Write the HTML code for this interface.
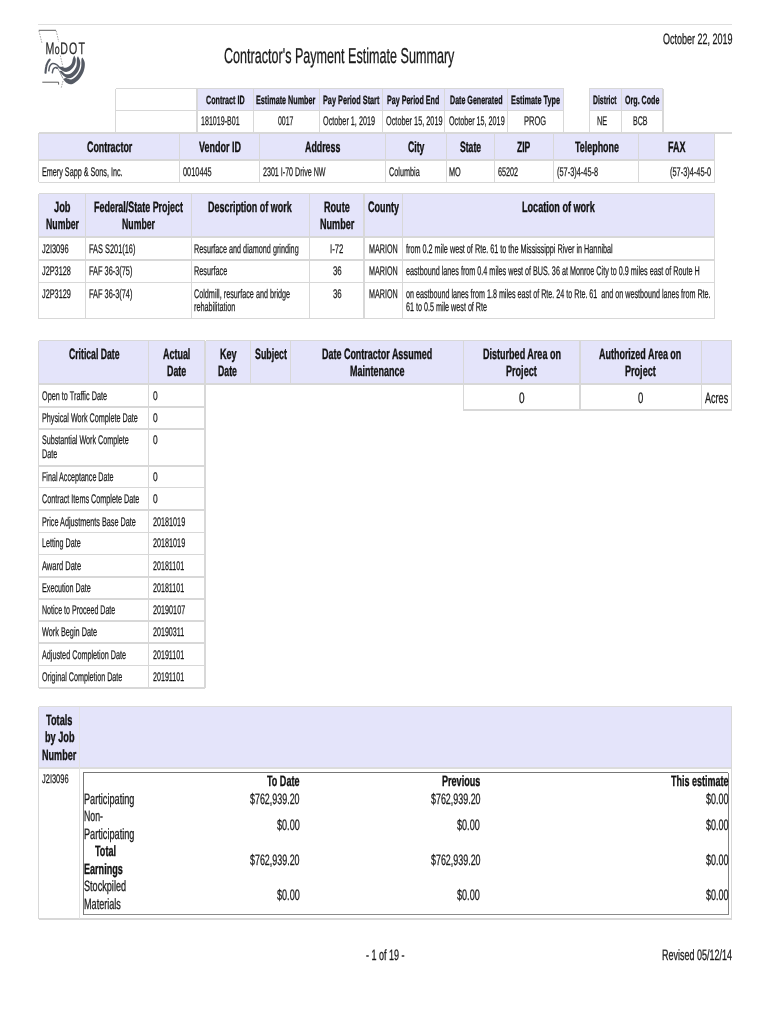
<!DOCTYPE html>
<html><head><meta charset="utf-8"><title>Contractor's Payment Estimate Summary</title>
<style>
html,body{margin:0;padding:0;background:#fff}
body{width:770px;height:1024px;position:relative;overflow:hidden;text-rendering:geometricPrecision;font-family:"Liberation Sans",sans-serif;color:#1a1a1a}
.b{position:absolute}
.t{position:absolute;white-space:pre;line-height:1;transform-origin:0 0;display:block;-webkit-text-stroke:0.25px #1a1a1a}
.w{-webkit-text-stroke:0.2px #111;color:#111}
#tx{position:absolute;left:0;top:0;width:770px;height:1024px;will-change:transform}
.w{font-weight:bold}
</style></head><body>
<div class="b" style="left:197px;top:88.5px;width:366.75px;height:22px;background:#e4e4fa"></div>
<div class="b" style="left:589.3px;top:88.5px;width:73.8px;height:22px;background:#e4e4fa"></div>
<div class="b" style="left:38.75px;top:133.25px;width:675.75px;height:27px;background:#e4e4fa"></div>
<div class="b" style="left:38.75px;top:193.5px;width:675.75px;height:43.75px;background:#e4e4fa"></div>
<div class="b" style="left:38.75px;top:340.5px;width:692.85px;height:43.75px;background:#e4e4fa"></div>
<div class="b" style="left:38.75px;top:706.9px;width:693.25px;height:60.7px;background:#e4e4fa"></div>
<div class="b" style="left:38px;top:23.75px;width:694px;height:1.5px;background:#dedede"></div>
<div class="b" style="left:115.6px;top:87.7px;width:448.15px;height:1.6px;background:#d8d8d8"></div>
<div class="b" style="left:115.6px;top:109.7px;width:448.15px;height:1.6px;background:#d8d8d8"></div>
<div class="b" style="left:589.3px;top:87.7px;width:73.8px;height:1.6px;background:#d8d8d8"></div>
<div class="b" style="left:589.3px;top:109.7px;width:73.8px;height:1.6px;background:#d8d8d8"></div>
<div class="b" style="left:114.9px;top:88.5px;width:1.4px;height:44.5px;background:#d8d8d8"></div>
<div class="b" style="left:196.3px;top:88.5px;width:1.4px;height:44.5px;background:#d8d8d8"></div>
<div class="b" style="left:253px;top:88.5px;width:1.4px;height:44.5px;background:#d8d8d8"></div>
<div class="b" style="left:318.7px;top:88.5px;width:1.4px;height:44.5px;background:#d8d8d8"></div>
<div class="b" style="left:381.6px;top:88.5px;width:1.4px;height:44.5px;background:#d8d8d8"></div>
<div class="b" style="left:444.1px;top:88.5px;width:1.4px;height:44.5px;background:#d8d8d8"></div>
<div class="b" style="left:506.6px;top:88.5px;width:1.4px;height:44.5px;background:#d8d8d8"></div>
<div class="b" style="left:563.05px;top:88.5px;width:1.4px;height:44.5px;background:#d8d8d8"></div>
<div class="b" style="left:588.6px;top:88.5px;width:1.4px;height:44.5px;background:#d8d8d8"></div>
<div class="b" style="left:620.8px;top:88.5px;width:1.4px;height:44.5px;background:#d8d8d8"></div>
<div class="b" style="left:662.4px;top:88.5px;width:1.4px;height:44.5px;background:#d8d8d8"></div>
<div class="b" style="left:38.75px;top:132.45px;width:693.25px;height:1.6px;background:#d8d8d8"></div>
<div class="b" style="left:38.75px;top:159.45px;width:675.75px;height:1.6px;background:#d8d8d8"></div>
<div class="b" style="left:38.75px;top:181.5px;width:675.75px;height:1.6px;background:#d8d8d8"></div>
<div class="b" style="left:38.05px;top:133.25px;width:1.4px;height:49.05px;background:#d8d8d8"></div>
<div class="b" style="left:178.6px;top:133.25px;width:1.4px;height:49.05px;background:#d8d8d8"></div>
<div class="b" style="left:258.8px;top:133.25px;width:1.4px;height:49.05px;background:#d8d8d8"></div>
<div class="b" style="left:385.05px;top:133.25px;width:1.4px;height:49.05px;background:#d8d8d8"></div>
<div class="b" style="left:445.55px;top:133.25px;width:1.4px;height:49.05px;background:#d8d8d8"></div>
<div class="b" style="left:493.55px;top:133.25px;width:1.4px;height:49.05px;background:#d8d8d8"></div>
<div class="b" style="left:553.05px;top:133.25px;width:1.4px;height:49.05px;background:#d8d8d8"></div>
<div class="b" style="left:637.55px;top:133.25px;width:1.4px;height:49.05px;background:#d8d8d8"></div>
<div class="b" style="left:713.8px;top:133.25px;width:1.4px;height:49.05px;background:#d8d8d8"></div>
<div class="b" style="left:38.75px;top:192.7px;width:675.75px;height:1.6px;background:#d8d8d8"></div>
<div class="b" style="left:38.75px;top:236.45px;width:675.75px;height:1.6px;background:#d8d8d8"></div>
<div class="b" style="left:38.75px;top:259.2px;width:675.75px;height:1.6px;background:#d8d8d8"></div>
<div class="b" style="left:38.75px;top:281.7px;width:675.75px;height:1.6px;background:#d8d8d8"></div>
<div class="b" style="left:38.75px;top:317.8px;width:675.75px;height:1.6px;background:#d8d8d8"></div>
<div class="b" style="left:38.05px;top:193.5px;width:1.4px;height:125.1px;background:#d8d8d8"></div>
<div class="b" style="left:84.9px;top:193.5px;width:1.4px;height:125.1px;background:#d8d8d8"></div>
<div class="b" style="left:190.55px;top:193.5px;width:1.4px;height:125.1px;background:#d8d8d8"></div>
<div class="b" style="left:308.6px;top:193.5px;width:1.4px;height:125.1px;background:#d8d8d8"></div>
<div class="b" style="left:363.2px;top:193.5px;width:1.4px;height:125.1px;background:#d8d8d8"></div>
<div class="b" style="left:401.6px;top:193.5px;width:1.4px;height:125.1px;background:#d8d8d8"></div>
<div class="b" style="left:713.8px;top:193.5px;width:1.4px;height:125.1px;background:#d8d8d8"></div>
<div class="b" style="left:38.75px;top:339.7px;width:166.35px;height:1.6px;background:#d8d8d8"></div>
<div class="b" style="left:38.75px;top:383.45px;width:166.35px;height:1.6px;background:#d8d8d8"></div>
<div class="b" style="left:38.75px;top:406.3px;width:166.35px;height:1.6px;background:#d8d8d8"></div>
<div class="b" style="left:38.75px;top:428.1px;width:166.35px;height:1.6px;background:#d8d8d8"></div>
<div class="b" style="left:38.75px;top:465px;width:166.35px;height:1.6px;background:#d8d8d8"></div>
<div class="b" style="left:38.75px;top:486.7px;width:166.35px;height:1.6px;background:#d8d8d8"></div>
<div class="b" style="left:38.75px;top:509.2px;width:166.35px;height:1.6px;background:#d8d8d8"></div>
<div class="b" style="left:38.75px;top:531.7px;width:166.35px;height:1.6px;background:#d8d8d8"></div>
<div class="b" style="left:38.75px;top:553.7px;width:166.35px;height:1.6px;background:#d8d8d8"></div>
<div class="b" style="left:38.75px;top:575.95px;width:166.35px;height:1.6px;background:#d8d8d8"></div>
<div class="b" style="left:38.75px;top:597.95px;width:166.35px;height:1.6px;background:#d8d8d8"></div>
<div class="b" style="left:38.75px;top:619.95px;width:166.35px;height:1.6px;background:#d8d8d8"></div>
<div class="b" style="left:38.75px;top:642.2px;width:166.35px;height:1.6px;background:#d8d8d8"></div>
<div class="b" style="left:38.75px;top:664.7px;width:166.35px;height:1.6px;background:#d8d8d8"></div>
<div class="b" style="left:38.75px;top:687.2px;width:166.35px;height:1.6px;background:#d8d8d8"></div>
<div class="b" style="left:38.05px;top:340.5px;width:1.4px;height:347.5px;background:#d8d8d8"></div>
<div class="b" style="left:147.9px;top:340.5px;width:1.4px;height:347.5px;background:#d8d8d8"></div>
<div class="b" style="left:204.4px;top:340.5px;width:1.4px;height:347.5px;background:#d8d8d8"></div>
<div class="b" style="left:205.5px;top:339.7px;width:526.1px;height:1.6px;background:#d8d8d8"></div>
<div class="b" style="left:205.5px;top:383.45px;width:526.1px;height:1.6px;background:#d8d8d8"></div>
<div class="b" style="left:204.8px;top:340.5px;width:1.4px;height:43.75px;background:#d8d8d8"></div>
<div class="b" style="left:249.8px;top:340.5px;width:1.4px;height:43.75px;background:#d8d8d8"></div>
<div class="b" style="left:289.55px;top:340.5px;width:1.4px;height:43.75px;background:#d8d8d8"></div>
<div class="b" style="left:462.55px;top:340.5px;width:1.4px;height:43.75px;background:#d8d8d8"></div>
<div class="b" style="left:579.3px;top:340.5px;width:1.4px;height:43.75px;background:#d8d8d8"></div>
<div class="b" style="left:700.55px;top:340.5px;width:1.4px;height:43.75px;background:#d8d8d8"></div>
<div class="b" style="left:730.9px;top:340.5px;width:1.4px;height:43.75px;background:#d8d8d8"></div>
<div class="b" style="left:463.25px;top:409.2px;width:268.35px;height:1.6px;background:#d8d8d8"></div>
<div class="b" style="left:462.55px;top:384.25px;width:1.4px;height:25.75px;background:#d8d8d8"></div>
<div class="b" style="left:579.3px;top:384.25px;width:1.4px;height:25.75px;background:#d8d8d8"></div>
<div class="b" style="left:700.55px;top:384.25px;width:1.4px;height:25.75px;background:#d8d8d8"></div>
<div class="b" style="left:730.9px;top:384.25px;width:1.4px;height:25.75px;background:#d8d8d8"></div>
<div class="b" style="left:38.75px;top:706px;width:693.25px;height:1.2px;background:#dcdcdc"></div>
<div class="b" style="left:38.75px;top:767.2px;width:693.25px;height:1.6px;background:#dcdcdc"></div>
<div class="b" style="left:38.75px;top:918.2px;width:693.25px;height:1.6px;background:#d8d8d8"></div>
<div class="b" style="left:38.05px;top:706.5px;width:1.4px;height:212.5px;background:#d8d8d8"></div>
<div class="b" style="left:79.05px;top:706.5px;width:1.1px;height:212.5px;background:#e2e2e2"></div>
<div class="b" style="left:731.1px;top:706.5px;width:1.4px;height:212.5px;background:#d8d8d8"></div>
<div class="b" style="left:83.25px;top:771.95px;width:644.95px;height:1.1px;background:#777"></div>
<div class="b" style="left:83.25px;top:914.05px;width:644.95px;height:0.9px;background:#8a8a8a"></div>
<div class="b" style="left:83.05px;top:772.5px;width:1.1px;height:142px;background:#777"></div>
<div class="b" style="left:727.5px;top:772.5px;width:0.8px;height:142px;background:#808080"></div>
<div id="tx">
<svg class="b" style="left:36px;top:26px" width="56" height="66" viewBox="36 26 56 66">
<g fill="none" stroke="#4a4a4a" stroke-width="0.9">
<path d="M38.8 30.3H56"/>
<path d="M42.3 82.2H58.6V84.6"/>
</g>
<g fill="none" stroke="#8e8e8e" stroke-width="0.8" stroke-dasharray="1.6 1.1">
<path d="M38.9 30.8L42 43.2"/>
<path d="M56.2 30.8L58.7 41.8"/>
<path d="M60.3 55.5L63.2 68"/>
<path d="M63 81L61.3 87.6"/>
</g>
<g fill="#555a64" stroke="none">
<path d="M82.5 57.5C82.9 58.4 84.6 60.7 84.8 63.0C85.0 65.4 84.6 68.8 83.6 71.5C82.7 74.2 80.8 77.2 79.0 79.3C77.1 81.4 74.4 83.3 72.5 83.9C70.5 84.6 68.8 84.1 67.3 83.3C65.7 82.5 63.8 79.7 63.1 78.9C63.5 78.8 64.6 77.9 66.0 78.0C67.3 78.0 69.4 79.7 71.2 79.4C72.9 79.1 74.7 77.9 76.4 76.0C78.0 74.2 80.1 71.0 80.9 68.2C81.8 65.5 81.2 61.3 81.4 59.5C81.7 57.7 82.3 57.8 82.5 57.5Z"/>
<path d="M78.0 56.2C78.4 57.2 80.2 60.0 80.3 62.4C80.3 64.8 79.7 68.3 78.4 70.8C77.1 73.3 74.3 76.1 72.5 77.3C70.6 78.5 68.9 78.5 67.3 78.1C65.6 77.7 64.0 76.0 62.7 74.9C61.4 73.7 59.9 71.8 59.4 71.2C59.8 71.2 60.6 70.5 61.8 71.0C62.9 71.5 64.3 73.9 66.0 74.2C67.7 74.5 70.1 74.1 71.8 72.8C73.5 71.5 75.5 68.7 76.4 66.3C77.2 63.9 76.6 60.2 76.9 58.5C77.2 56.8 77.8 56.6 78.0 56.2Z"/>
<path d="M74.3 55.6C74.5 56.4 76.0 58.4 75.8 60.4C75.7 62.4 74.6 65.7 73.2 67.6C71.9 69.4 69.7 71.0 67.9 71.6C66.2 72.2 64.3 71.8 62.7 71.0C61.2 70.2 59.2 67.5 58.5 66.8C59.0 66.8 60.2 66.5 61.4 66.7C62.7 66.8 64.4 68.1 66.0 67.7C67.6 67.3 70.0 65.9 71.2 64.3C72.3 62.8 72.5 60.0 73.0 58.5C73.5 57.0 74.1 56.1 74.3 55.6Z"/>
</g>
<g fill="none" stroke="#555a64" stroke-linecap="round">
<path stroke-width="2.1" d="M45.5 72.8C45.6 71.8 45.8 68.7 46.2 66.9C46.5 65.2 47.2 63.6 47.8 62.4C48.4 61.2 49.4 60.1 49.7 59.7"/>
<path stroke-width="1.5" d="M48.8 70.8C48.9 70.1 49.2 67.5 49.7 66.3C50.3 65.1 50.9 64.0 52.0 63.7C53.1 63.4 55.3 64.0 56.6 64.7C57.8 65.3 58.6 66.8 59.5 67.6C60.3 68.3 61.4 68.9 61.8 69.2"/>
<path stroke-width="1.5" d="M52.3 72.8C52.5 72.2 52.8 70.1 53.3 69.2C53.8 68.3 54.6 67.6 55.3 67.5C55.9 67.3 56.9 68.1 57.2 68.2"/>
<path stroke-width="0.6" d="M56.9 66.9C57.3 67.7 58.5 69.6 59.5 71.5C60.5 73.3 62.2 76.9 62.7 78.0"/>
</g>
<text x="0" y="0" transform="translate(45.6 53.9) scale(0.64 1)" font-family="Liberation Sans, sans-serif" font-size="16.6" fill="#2a2a2a" stroke="#2a2a2a" stroke-width="0.25">M<tspan font-size="13.8" dx="0.4">o</tspan><tspan dx="0.9">D</tspan><tspan dx="1.6">O</tspan><tspan dx="2.1">T</tspan></text>
</svg>
<div class="t" style="left:662.76px;top:31.80px;font-size:15px;transform:scaleX(0.6002);-webkit-text-stroke-width:0.3px">October 22, 2019</div>
<div class="t" style="left:224.15px;top:45.90px;font-size:21.5px;transform:scaleX(0.5853);-webkit-text-stroke-width:0.3px">Contractor's Payment Estimate Summary</div>
<div class="t w" style="left:205.50px;top:93.64px;font-size:12px;transform:scaleX(0.5971);-webkit-text-stroke-width:0.3px">Contract ID</div>
<div class="t w" style="left:256.36px;top:93.64px;font-size:12px;transform:scaleX(0.6014);-webkit-text-stroke-width:0.3px">Estimate Number</div>
<div class="t w" style="left:322.60px;top:93.64px;font-size:12px;transform:scaleX(0.6083);-webkit-text-stroke-width:0.3px">Pay Period Start</div>
<div class="t w" style="left:387.11px;top:93.64px;font-size:12px;transform:scaleX(0.5937);-webkit-text-stroke-width:0.3px">Pay Period End</div>
<div class="t w" style="left:449.71px;top:93.64px;font-size:12px;transform:scaleX(0.5915);-webkit-text-stroke-width:0.3px">Date Generated</div>
<div class="t w" style="left:510.60px;top:93.64px;font-size:12px;transform:scaleX(0.6095);-webkit-text-stroke-width:0.3px">Estimate Type</div>
<div class="t w" style="left:593.38px;top:93.64px;font-size:12px;transform:scaleX(0.5713);-webkit-text-stroke-width:0.3px">District</div>
<div class="t w" style="left:625.30px;top:93.64px;font-size:12px;transform:scaleX(0.5922);-webkit-text-stroke-width:0.3px">Org. Code</div>
<div class="t" style="left:200.53px;top:115.12px;font-size:12.5px;transform:scaleX(0.5673);-webkit-text-stroke-width:0.25px">181019-B01</div>
<div class="t" style="left:278.40px;top:115.12px;font-size:12.5px;transform:scaleX(0.5567);-webkit-text-stroke-width:0.25px">0017</div>
<div class="t" style="left:322.73px;top:115.12px;font-size:12.5px;transform:scaleX(0.5805);-webkit-text-stroke-width:0.25px">October 1, 2019</div>
<div class="t" style="left:385.73px;top:115.12px;font-size:12.5px;transform:scaleX(0.5853);-webkit-text-stroke-width:0.25px">October 15, 2019</div>
<div class="t" style="left:448.53px;top:115.12px;font-size:12.5px;transform:scaleX(0.5759);-webkit-text-stroke-width:0.25px">October 15, 2019</div>
<div class="t" style="left:524.46px;top:115.12px;font-size:12.5px;transform:scaleX(0.5982);-webkit-text-stroke-width:0.25px">PROG</div>
<div class="t" style="left:597.07px;top:115.12px;font-size:12.5px;transform:scaleX(0.5852);-webkit-text-stroke-width:0.25px">NE</div>
<div class="t" style="left:633.49px;top:115.12px;font-size:12.5px;transform:scaleX(0.5686);-webkit-text-stroke-width:0.25px">BCB</div>
<div class="t w" style="left:86.74px;top:140.20px;font-size:15px;transform:scaleX(0.5906);-webkit-text-stroke-width:0.36px">Contractor</div>
<div class="t w" style="left:198.80px;top:140.20px;font-size:15px;transform:scaleX(0.5995);-webkit-text-stroke-width:0.36px">Vendor ID</div>
<div class="t w" style="left:305.39px;top:140.20px;font-size:15px;transform:scaleX(0.5892);-webkit-text-stroke-width:0.36px">Address</div>
<div class="t w" style="left:407.75px;top:140.20px;font-size:15px;transform:scaleX(0.5802);-webkit-text-stroke-width:0.36px">City</div>
<div class="t w" style="left:459.86px;top:140.20px;font-size:15px;transform:scaleX(0.5747);-webkit-text-stroke-width:0.36px">State</div>
<div class="t w" style="left:517.35px;top:140.20px;font-size:15px;transform:scaleX(0.5716);-webkit-text-stroke-width:0.36px">ZIP</div>
<div class="t w" style="left:574.51px;top:140.20px;font-size:15px;transform:scaleX(0.5945);-webkit-text-stroke-width:0.36px">Telephone</div>
<div class="t w" style="left:667.51px;top:140.20px;font-size:15px;transform:scaleX(0.5983);-webkit-text-stroke-width:0.36px">FAX</div>
<div class="t" style="left:41.98px;top:165.72px;font-size:12.5px;transform:scaleX(0.5772);-webkit-text-stroke-width:0.25px">Emery Sapp &amp; Sons, Inc.</div>
<div class="t" style="left:182.79px;top:165.72px;font-size:12.5px;transform:scaleX(0.5897);-webkit-text-stroke-width:0.25px">0010445</div>
<div class="t" style="left:263.46px;top:165.72px;font-size:12.5px;transform:scaleX(0.5693);-webkit-text-stroke-width:0.25px">2301 I-70 Drive NW</div>
<div class="t" style="left:389.20px;top:165.72px;font-size:12.5px;transform:scaleX(0.5818);-webkit-text-stroke-width:0.25px">Columbia</div>
<div class="t" style="left:449.47px;top:165.72px;font-size:12.5px;transform:scaleX(0.5861);-webkit-text-stroke-width:0.25px">MO</div>
<div class="t" style="left:497.71px;top:165.72px;font-size:12.5px;transform:scaleX(0.5777);-webkit-text-stroke-width:0.25px">65202</div>
<div class="t" style="left:557.12px;top:165.72px;font-size:12.5px;transform:scaleX(0.5920);-webkit-text-stroke-width:0.25px">(57-3)4-45-8</div>
<div class="t" style="left:670.37px;top:165.72px;font-size:12.5px;transform:scaleX(0.5915);-webkit-text-stroke-width:0.25px">(57-3)4-45-0</div>
<div class="t w" style="left:54.22px;top:199.60px;font-size:15px;transform:scaleX(0.6205);-webkit-text-stroke-width:0.36px">Job</div>
<div class="t w" style="left:45.77px;top:217.10px;font-size:15px;transform:scaleX(0.5823);-webkit-text-stroke-width:0.36px">Number</div>
<div class="t w" style="left:94.01px;top:199.60px;font-size:15px;transform:scaleX(0.5963);-webkit-text-stroke-width:0.36px">Federal/State Project</div>
<div class="t w" style="left:122.02px;top:217.10px;font-size:15px;transform:scaleX(0.5823);-webkit-text-stroke-width:0.36px">Number</div>
<div class="t w" style="left:208.26px;top:199.60px;font-size:15px;transform:scaleX(0.5972);-webkit-text-stroke-width:0.36px">Description of work</div>
<div class="t w" style="left:323.75px;top:199.60px;font-size:15px;transform:scaleX(0.6047);-webkit-text-stroke-width:0.36px">Route</div>
<div class="t w" style="left:319.50px;top:217.10px;font-size:15px;transform:scaleX(0.6047);-webkit-text-stroke-width:0.36px">Number</div>
<div class="t w" style="left:367.74px;top:199.60px;font-size:15px;transform:scaleX(0.5990);-webkit-text-stroke-width:0.36px">County</div>
<div class="t w" style="left:521.50px;top:199.60px;font-size:15px;transform:scaleX(0.6057);-webkit-text-stroke-width:0.36px">Location of work</div>
<div class="t" style="left:41.96px;top:242.82px;font-size:12.5px;transform:scaleX(0.5967);-webkit-text-stroke-width:0.25px">J2I3096</div>
<div class="t" style="left:41.96px;top:265.42px;font-size:12.5px;transform:scaleX(0.5852);-webkit-text-stroke-width:0.25px">J2P3128</div>
<div class="t" style="left:41.96px;top:287.82px;font-size:12.5px;transform:scaleX(0.5858);-webkit-text-stroke-width:0.25px">J2P3129</div>
<div class="t" style="left:89.47px;top:242.82px;font-size:12.5px;transform:scaleX(0.5912);-webkit-text-stroke-width:0.25px">FAS S201(16)</div>
<div class="t" style="left:89.47px;top:265.42px;font-size:12.5px;transform:scaleX(0.5895);-webkit-text-stroke-width:0.25px">FAF 36-3(75)</div>
<div class="t" style="left:89.47px;top:287.82px;font-size:12.5px;transform:scaleX(0.5895);-webkit-text-stroke-width:0.25px">FAF 36-3(74)</div>
<div class="t" style="left:193.98px;top:242.82px;font-size:12.5px;transform:scaleX(0.5793);-webkit-text-stroke-width:0.25px">Resurface and diamond grinding</div>
<div class="t" style="left:193.97px;top:265.42px;font-size:12.5px;transform:scaleX(0.5840);-webkit-text-stroke-width:0.25px">Resurface</div>
<div class="t" style="left:194.21px;top:287.82px;font-size:12.5px;transform:scaleX(0.5784);-webkit-text-stroke-width:0.25px">Coldmill, resurface and bridge</div>
<div class="t" style="left:194.09px;top:301.22px;font-size:12.5px;transform:scaleX(0.5827);-webkit-text-stroke-width:0.25px">rehabilitation</div>
<div class="t" style="left:330.11px;top:242.82px;font-size:12.5px;transform:scaleX(0.6245);-webkit-text-stroke-width:0.25px">I-72</div>
<div class="t" style="left:332.78px;top:265.42px;font-size:12.5px;transform:scaleX(0.6283);-webkit-text-stroke-width:0.25px">36</div>
<div class="t" style="left:332.78px;top:287.82px;font-size:12.5px;transform:scaleX(0.6283);-webkit-text-stroke-width:0.25px">36</div>
<div class="t" style="left:368.68px;top:242.82px;font-size:12.5px;transform:scaleX(0.5746);-webkit-text-stroke-width:0.25px">MARION</div>
<div class="t" style="left:368.68px;top:265.42px;font-size:12.5px;transform:scaleX(0.5746);-webkit-text-stroke-width:0.25px">MARION</div>
<div class="t" style="left:368.68px;top:287.82px;font-size:12.5px;transform:scaleX(0.5746);-webkit-text-stroke-width:0.25px">MARION</div>
<div class="t" style="left:406.22px;top:242.82px;font-size:12.5px;transform:scaleX(0.5800);-webkit-text-stroke-width:0.25px">from 0.2 mile west of Rte. 61 to the Mississippi River in Hannibal</div>
<div class="t" style="left:406.02px;top:265.42px;font-size:12.5px;transform:scaleX(0.5768);-webkit-text-stroke-width:0.25px">eastbound lanes from 0.4 miles west of BUS. 36 at Monroe City to 0.9 miles east of Route H</div>
<div class="t" style="left:406.02px;top:287.82px;font-size:12.5px;transform:scaleX(0.5737);-webkit-text-stroke-width:0.25px">on eastbound lanes from 1.8 miles east of Rte. 24 to Rte. 61  and on westbound lanes from Rte.</div>
<div class="t" style="left:405.96px;top:301.22px;font-size:12.5px;transform:scaleX(0.5746);-webkit-text-stroke-width:0.25px">61 to 0.5 mile west of Rte</div>
<div class="t w" style="left:68.50px;top:346.60px;font-size:15px;transform:scaleX(0.5762);-webkit-text-stroke-width:0.36px">Critical Date</div>
<div class="t w" style="left:163.18px;top:346.60px;font-size:15px;transform:scaleX(0.5964);-webkit-text-stroke-width:0.36px">Actual</div>
<div class="t w" style="left:167.11px;top:363.70px;font-size:15px;transform:scaleX(0.5931);-webkit-text-stroke-width:0.36px">Date</div>
<div class="t w" style="left:219.50px;top:346.60px;font-size:15px;transform:scaleX(0.6062);-webkit-text-stroke-width:0.36px">Key</div>
<div class="t w" style="left:218.27px;top:363.70px;font-size:15px;transform:scaleX(0.5820);-webkit-text-stroke-width:0.36px">Date</div>
<div class="t w" style="left:254.85px;top:346.60px;font-size:15px;transform:scaleX(0.5887);-webkit-text-stroke-width:0.36px">Subject</div>
<div class="t w" style="left:321.51px;top:346.60px;font-size:15px;transform:scaleX(0.5975);-webkit-text-stroke-width:0.36px">Date Contractor Assumed</div>
<div class="t w" style="left:349.51px;top:363.70px;font-size:15px;transform:scaleX(0.5992);-webkit-text-stroke-width:0.36px">Maintenance</div>
<div class="t w" style="left:482.50px;top:346.60px;font-size:15px;transform:scaleX(0.6021);-webkit-text-stroke-width:0.36px">Disturbed Area on</div>
<div class="t w" style="left:506.25px;top:363.70px;font-size:15px;transform:scaleX(0.6046);-webkit-text-stroke-width:0.36px">Project</div>
<div class="t w" style="left:599.38px;top:346.60px;font-size:15px;transform:scaleX(0.5974);-webkit-text-stroke-width:0.36px">Authorized Area on</div>
<div class="t w" style="left:625.00px;top:363.70px;font-size:15px;transform:scaleX(0.6046);-webkit-text-stroke-width:0.36px">Project</div>
<div class="t" style="left:519.21px;top:390.50px;font-size:15px;transform:scaleX(0.6692);-webkit-text-stroke-width:0.3px">0</div>
<div class="t" style="left:638.47px;top:390.50px;font-size:15px;transform:scaleX(0.6357);-webkit-text-stroke-width:0.3px">0</div>
<div class="t" style="left:705.07px;top:390.50px;font-size:15px;transform:scaleX(0.6041);-webkit-text-stroke-width:0.3px">Acres</div>
<div class="t" style="left:42.23px;top:389.92px;font-size:12.5px;transform:scaleX(0.5824);-webkit-text-stroke-width:0.25px">Open to Traffic Date</div>
<div class="t" style="left:152.55px;top:389.92px;font-size:12.5px;transform:scaleX(0.6745);-webkit-text-stroke-width:0.25px">0</div>
<div class="t" style="left:41.98px;top:411.82px;font-size:12.5px;transform:scaleX(0.5776);-webkit-text-stroke-width:0.25px">Physical Work Complete Date</div>
<div class="t" style="left:152.55px;top:411.82px;font-size:12.5px;transform:scaleX(0.6745);-webkit-text-stroke-width:0.25px">0</div>
<div class="t" style="left:42.25px;top:433.72px;font-size:12.5px;transform:scaleX(0.5733);-webkit-text-stroke-width:0.25px">Substantial Work Complete</div>
<div class="t" style="left:152.55px;top:433.72px;font-size:12.5px;transform:scaleX(0.6745);-webkit-text-stroke-width:0.25px">0</div>
<div class="t" style="left:41.99px;top:470.72px;font-size:12.5px;transform:scaleX(0.5713);-webkit-text-stroke-width:0.25px">Final Acceptance Date</div>
<div class="t" style="left:152.55px;top:470.72px;font-size:12.5px;transform:scaleX(0.6745);-webkit-text-stroke-width:0.25px">0</div>
<div class="t" style="left:42.20px;top:492.62px;font-size:12.5px;transform:scaleX(0.5787);-webkit-text-stroke-width:0.25px">Contract Items Complete Date</div>
<div class="t" style="left:152.55px;top:492.62px;font-size:12.5px;transform:scaleX(0.6745);-webkit-text-stroke-width:0.25px">0</div>
<div class="t" style="left:41.98px;top:515.52px;font-size:12.5px;transform:scaleX(0.5792);-webkit-text-stroke-width:0.25px">Price Adjustments Base Date</div>
<div class="t" style="left:152.61px;top:515.52px;font-size:12.5px;transform:scaleX(0.5782);-webkit-text-stroke-width:0.25px">20181019</div>
<div class="t" style="left:41.98px;top:536.62px;font-size:12.5px;transform:scaleX(0.5735);-webkit-text-stroke-width:0.25px">Letting Date</div>
<div class="t" style="left:152.61px;top:536.62px;font-size:12.5px;transform:scaleX(0.5782);-webkit-text-stroke-width:0.25px">20181019</div>
<div class="t" style="left:41.96px;top:559.72px;font-size:12.5px;transform:scaleX(0.6006);-webkit-text-stroke-width:0.25px">Award Date</div>
<div class="t" style="left:152.61px;top:559.72px;font-size:12.5px;transform:scaleX(0.5698);-webkit-text-stroke-width:0.25px">20181101</div>
<div class="t" style="left:41.98px;top:582.32px;font-size:12.5px;transform:scaleX(0.5752);-webkit-text-stroke-width:0.25px">Execution Date</div>
<div class="t" style="left:152.61px;top:582.32px;font-size:12.5px;transform:scaleX(0.5698);-webkit-text-stroke-width:0.25px">20181101</div>
<div class="t" style="left:41.99px;top:604.22px;font-size:12.5px;transform:scaleX(0.5668);-webkit-text-stroke-width:0.25px">Notice to Proceed Date</div>
<div class="t" style="left:152.61px;top:604.22px;font-size:12.5px;transform:scaleX(0.5786);-webkit-text-stroke-width:0.25px">20190107</div>
<div class="t" style="left:41.94px;top:625.92px;font-size:12.5px;transform:scaleX(0.5841);-webkit-text-stroke-width:0.25px">Work Begin Date</div>
<div class="t" style="left:152.61px;top:625.92px;font-size:12.5px;transform:scaleX(0.5698);-webkit-text-stroke-width:0.25px">20190311</div>
<div class="t" style="left:41.96px;top:649.02px;font-size:12.5px;transform:scaleX(0.5787);-webkit-text-stroke-width:0.25px">Adjusted Completion Date</div>
<div class="t" style="left:152.61px;top:649.02px;font-size:12.5px;transform:scaleX(0.5698);-webkit-text-stroke-width:0.25px">20191101</div>
<div class="t" style="left:42.23px;top:671.22px;font-size:12.5px;transform:scaleX(0.5751);-webkit-text-stroke-width:0.25px">Original Completion Date</div>
<div class="t" style="left:152.61px;top:671.22px;font-size:12.5px;transform:scaleX(0.5698);-webkit-text-stroke-width:0.25px">20191101</div>
<div class="t" style="left:41.98px;top:447.62px;font-size:12.5px;transform:scaleX(0.5783);-webkit-text-stroke-width:0.25px">Date</div>
<div class="t w" style="left:46.26px;top:712.50px;font-size:15px;transform:scaleX(0.6156);-webkit-text-stroke-width:0.36px">Totals</div>
<div class="t w" style="left:45.26px;top:730.00px;font-size:15px;transform:scaleX(0.6104);-webkit-text-stroke-width:0.36px">by Job</div>
<div class="t w" style="left:42.00px;top:747.50px;font-size:15px;transform:scaleX(0.6047);-webkit-text-stroke-width:0.36px">Number</div>
<div class="t" style="left:41.96px;top:773.42px;font-size:12.5px;transform:scaleX(0.5967);-webkit-text-stroke-width:0.25px">J2I3096</div>
<div class="t" style="left:83.84px;top:791.70px;font-size:15px;transform:scaleX(0.6107);-webkit-text-stroke-width:0.3px">Participating</div>
<div class="t" style="left:83.87px;top:809.20px;font-size:15px;transform:scaleX(0.5822);-webkit-text-stroke-width:0.3px">Non-</div>
<div class="t" style="left:83.84px;top:826.70px;font-size:15px;transform:scaleX(0.6107);-webkit-text-stroke-width:0.3px">Participating</div>
<div class="t w" style="left:94.51px;top:844.20px;font-size:15px;transform:scaleX(0.6056);-webkit-text-stroke-width:0.36px">Total</div>
<div class="t w" style="left:84.00px;top:861.70px;font-size:15px;transform:scaleX(0.6039);-webkit-text-stroke-width:0.36px">Earnings</div>
<div class="t" style="left:84.18px;top:879.20px;font-size:15px;transform:scaleX(0.6078);-webkit-text-stroke-width:0.3px">Stockpiled</div>
<div class="t" style="left:83.85px;top:896.70px;font-size:15px;transform:scaleX(0.6062);-webkit-text-stroke-width:0.3px">Materials</div>
<div class="t w" style="left:267.01px;top:774.10px;font-size:15px;transform:scaleX(0.6018);-webkit-text-stroke-width:0.36px">To Date</div>
<div class="t w" style="left:442.00px;top:774.10px;font-size:15px;transform:scaleX(0.6037);-webkit-text-stroke-width:0.36px">Previous</div>
<div class="t w" style="left:670.76px;top:774.10px;font-size:15px;transform:scaleX(0.5991);-webkit-text-stroke-width:0.36px">This estimate</div>
<div class="t" style="left:249.94px;top:791.70px;font-size:15px;transform:scaleX(0.5942);-webkit-text-stroke-width:0.3px">$762,939.20</div>
<div class="t" style="left:430.69px;top:791.70px;font-size:15px;transform:scaleX(0.5942);-webkit-text-stroke-width:0.3px">$762,939.20</div>
<div class="t" style="left:705.74px;top:791.70px;font-size:15px;transform:scaleX(0.5997);-webkit-text-stroke-width:0.3px">$0.00</div>
<div class="t" style="left:276.74px;top:818.00px;font-size:15px;transform:scaleX(0.6065);-webkit-text-stroke-width:0.3px">$0.00</div>
<div class="t" style="left:457.49px;top:818.00px;font-size:15px;transform:scaleX(0.6065);-webkit-text-stroke-width:0.3px">$0.00</div>
<div class="t" style="left:705.74px;top:818.00px;font-size:15px;transform:scaleX(0.5997);-webkit-text-stroke-width:0.3px">$0.00</div>
<div class="t" style="left:249.94px;top:853.00px;font-size:15px;transform:scaleX(0.5942);-webkit-text-stroke-width:0.3px">$762,939.20</div>
<div class="t" style="left:430.69px;top:853.00px;font-size:15px;transform:scaleX(0.5942);-webkit-text-stroke-width:0.3px">$762,939.20</div>
<div class="t" style="left:705.74px;top:853.00px;font-size:15px;transform:scaleX(0.5997);-webkit-text-stroke-width:0.3px">$0.00</div>
<div class="t" style="left:276.74px;top:888.00px;font-size:15px;transform:scaleX(0.6065);-webkit-text-stroke-width:0.3px">$0.00</div>
<div class="t" style="left:457.49px;top:888.00px;font-size:15px;transform:scaleX(0.6065);-webkit-text-stroke-width:0.3px">$0.00</div>
<div class="t" style="left:705.74px;top:888.00px;font-size:15px;transform:scaleX(0.5997);-webkit-text-stroke-width:0.3px">$0.00</div>
<div class="t" style="left:365.69px;top:947.80px;font-size:15px;transform:scaleX(0.6016);-webkit-text-stroke-width:0.3px">- 1 of 19 -</div>
<div class="t" style="left:661.65px;top:947.80px;font-size:15px;transform:scaleX(0.5998);-webkit-text-stroke-width:0.3px">Revised 05/12/14</div>
</div>
</body></html>
